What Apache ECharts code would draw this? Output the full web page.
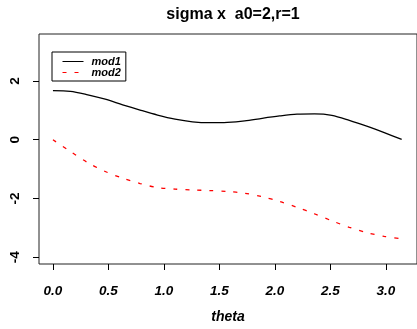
<!DOCTYPE html>
<html>
<head>
<meta charset="utf-8">
<script src="https://cdn.jsdelivr.net/npm/echarts@6/dist/echarts.min.js"></script>
<style>html,body{margin:0;padding:0;background:#fff}#c{width:417px;height:329px}</style>
</head>
<body>
<div id="c"></div>
<script>
const titleText = "sigma x  a0=2,r=1";
const xName = "theta";
const theta = [0, 0.157, 0.314, 0.471, 0.628, 0.785, 0.942, 1.100, 1.257, 1.414, 1.571, 1.728, 1.885, 2.042, 2.199, 2.356, 2.513, 2.670, 2.827, 2.985, 3.142];
const mod1 = [1.67, 1.65, 1.53, 1.38, 1.19, 1.01, 0.84, 0.70, 0.61, 0.58, 0.59, 0.64, 0.73, 0.81, 0.87, 0.88, 0.83, 0.66, 0.46, 0.24, 0.01];
const mod2 = [0, -0.40, -0.78, -1.08, -1.31, -1.49, -1.63, -1.68, -1.71, -1.73, -1.76, -1.82, -1.94, -2.10, -2.30, -2.52, -2.76, -2.98, -3.16, -3.29, -3.37];
const xTicks = [0, 0.5, 1.0, 1.5, 2.0, 2.5, 3.0];
const yTicks = [-4, -2, 0, 2];
const seriesNames = ["mod1", "mod2"];

const font = "'Liberation Sans', Arial, sans-serif";
const chart = echarts.init(document.getElementById('c'), null, {renderer: 'canvas'});
chart.setOption({
  animation: false,
  backgroundColor: '#fff',
  title: {
    text: titleText, left: 228, top: 2, textAlign: 'center',
    textStyle: {fontFamily: font, fontWeight: 'bold', fontSize: 16, color: '#000'}
  },
  legend: {
    data: seriesNames, orient: 'vertical', left: 52, top: 52,
    padding: [4, 5, 3, 10], borderColor: '#000', borderWidth: 1,
    itemWidth: 21, itemHeight: 10, itemGap: 0,
    itemStyle: {color: 'transparent', borderWidth: 0, opacity: 0},
    lineStyle: {width: 1},
    textStyle: {fontFamily: font, fontWeight: 'bold', fontStyle: 'italic', fontSize: 11, color: '#000', padding: [0, 0, 0, 3]}
  },
  grid: {left: 39, top: 34, width: 381, height: 239, show: true, borderColor: '#222', borderWidth: 1, backgroundColor: 'transparent'},
  xAxis: {
    type: 'value', min: -0.1257, max: 3.28,
    name: xName, nameLocation: 'middle', nameGap: 46,
    nameTextStyle: {fontFamily: font, fontWeight: 'bold', fontStyle: 'italic', fontSize: 14, color: '#000'},
    axisLine: {show: false, onZero: false},
    splitLine: {show: false},
    axisTick: {show: true, customValues: xTicks, length: 6, lineStyle: {color: '#000'}},
    axisLabel: {customValues: xTicks, margin: 20, fontFamily: font, fontWeight: 'bold', fontStyle: 'italic', fontSize: 13.5, color: '#000',
      formatter: v => v.toFixed(1)}
  },
  yAxis: {
    type: 'value', min: -4.23, max: 3.6,
    axisLine: {show: false, onZero: false},
    splitLine: {show: false},
    axisTick: {show: true, customValues: yTicks, length: 6, lineStyle: {color: '#000'}},
    axisLabel: {customValues: yTicks, rotate: 90, margin: 17, fontFamily: font, fontWeight: 'bold', fontSize: 13.5, color: '#000'}
  },
  series: [
    {name: seriesNames[0], type: 'line', data: theta.map((t, i) => [t, mod1[i]]), smooth: 0.3, symbol: 'none',
      lineStyle: {color: '#000', width: 1.3}, itemStyle: {color: '#000'}},
    {name: seriesNames[1], type: 'line', data: theta.map((t, i) => [t, mod2[i]]), smooth: 0.3, symbol: 'none',
      lineStyle: {color: '#ff0000', width: 1.3, type: [4, 8]}, itemStyle: {color: '#ff0000'}}
  ]
});
</script>
</body>
</html>
